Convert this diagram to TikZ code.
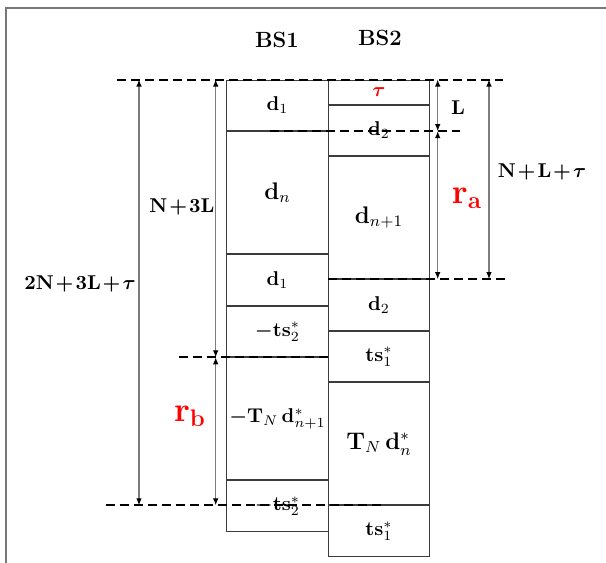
\documentclass[tikz,border=0pt]{standalone}
\usepackage{amsmath,amssymb}
\usepackage{tikz}
\usetikzlibrary{arrows.meta, positioning, calc}
\definecolor{framegray}{RGB}{120,120,120}
\definecolor{cellline}{RGB}{60,60,60}
\definecolor{dimgray}{RGB}{125,125,125}
\definecolor{hired}{RGB}{255,0,0}
\newcommand{\tightmath}{\medmuskip=1.5mu\relax}

\begin{document}
\begin{tikzpicture}[x=0.5pt, y=-0.5pt,
  cell/.style={draw=cellline, line width=0.5pt, minimum width=50.75pt, inner sep=0pt},
  short/.style={minimum height=25.3pt},
  tall/.style={minimum height=61pt},
  dashline/.style={dash pattern=on 4.5pt off 2.5pt, line width=1pt},
  dim/.style={draw=dimgray, line width=0.6pt, {Latex[length=3.5pt,width=2.8pt,color=black]}-{Latex[length=3.5pt,width=2.8pt,color=black]}},
  lbl/.style={font=\fontsize{11}{13}\selectfont\bfseries},
  mlbl/.style={font=\fontsize{10}{12}\selectfont\boldmath\tightmath},
  redlbl/.style={font=\LARGE\boldmath, text=hired}]
  \useasboundingbox (0,0) rectangle (606,563);
  \draw[framegray, line width=0.75pt] (6,563) -- (6,8) -- (606,8);

  % BS1 column
  \node[cell, short, anchor=north] (a1) at (277.5,79.5) {$\mathbf{d}_1$};
  \node[cell, tall, below=0pt of a1] (a2) {\large$\mathbf{d}_n$};
  \node[cell, short, below=0pt of a2] (a3) {$\mathbf{d}_1$};
  \node[cell, short, below=0pt of a3] (a4) {$\boldsymbol{-}\mathbf{ts}_2^*$};
  \node[cell, tall, below=0pt of a4] (a5) {$\boldsymbol{-}\mathbf{T}_N\,\mathbf{d}_{n+1}^*$};
  \node[cell, short, below=0pt of a5] (a6) {$\boldsymbol{-}\mathbf{ts}_2^*$};

  % BS2 column
  \node[cell, minimum height=12pt, anchor=north] (b0) at (379,79.5) {\color{hired}$\boldsymbol{\tau}$};
  \node[cell, short, below=0pt of b0] (b1) {$\mathbf{d}_2$};
  \node[cell, tall, below=0pt of b1] (b2) {\large$\mathbf{d}_{n+1}$};
  \node[cell, short, below=0pt of b2] (b3) {$\mathbf{d}_2$};
  \node[cell, short, below=0pt of b3] (b4) {$\mathbf{ts}_1^*$};
  \node[cell, tall, below=0pt of b4] (b5) {\large$\mathbf{T}_N\,\mathbf{d}_n^*$};
  \node[cell, short, below=0pt of b5] (b6) {$\mathbf{ts}_1^*$};

  \node[lbl] (bs1) at (277,40) {BS1};
  \node[lbl] (bs2) at (380,38) {BS2};

  % levels
  \coordinate (y0) at (a1.north);
  \coordinate (y1) at (a1.south);
  \coordinate (y2) at (b2.south);
  \coordinate (y3) at (a4.south);
  \coordinate (y4) at (b5.south);

  \draw[dashline] (117,0 |- y0) -- (503,0 |- y0);
  \draw[dashline] (270,0 |- y1) -- (460,0 |- y1);
  \draw[dashline] (328,0 |- y2) -- (505,0 |- y2);
  \draw[dashline] (179,0 |- y3) -- (328,0 |- y3);
  \draw[dashline] (106,0 |- y4) -- (383,0 |- y4);

  \draw[dim] (139,0 |- y0) -- (139,0 |- y4);
  \draw[dim] (215.7,0 |- y0) -- (215.7,0 |- y3);
  \draw[dim] (215.7,0 |- y3) -- (215.7,0 |- y4);
  \draw[dim] (437.7,0 |- y0) -- (437.7,0 |- y1);
  \draw[dim] (437.7,0 |- y1) -- (437.7,0 |- y2);
  \draw[dim] (489,0 |- y0) -- (489,0 |- y2);

  \node[mlbl] (tot) at (80,284) {$\mathbf{2N}+\mathbf{3L}+\tau$};
  \node[mlbl] (n3l) at (182,207) {$\mathbf{N}+\mathbf{3L}$};
  \node[mlbl] (nlt) at (542,172) {$\mathbf{N}+\mathbf{L}+\tau$};
  \node[mlbl] (ll) at (458,108) {$\mathbf{L}$};
  \node[redlbl] (ra) at (467,198) {$\mathbf{r}_{\mathbf{a}}$};
  \node[redlbl] (rb) at (190,416) {$\mathbf{r}_{\mathbf{b}}$};
\end{tikzpicture}
\end{document}
